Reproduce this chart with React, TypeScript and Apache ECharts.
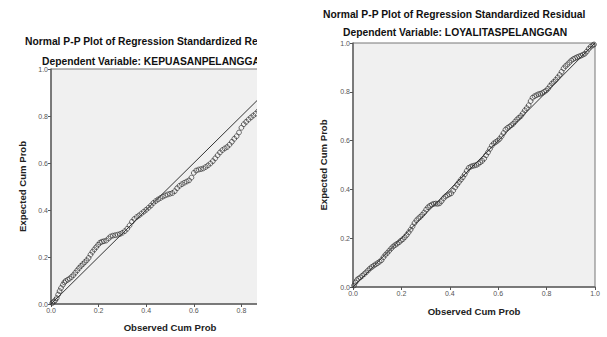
import React, { useEffect, useRef } from "react";
import * as echarts from "echarts";

const titleText = "Normal P-P Plot of Regression Standardized Residual";
const leftSubtitle = "Dependent Variable: KEPUASANPELANGGAN";
const rightSubtitle = "Dependent Variable: LOYALITASPELANGGAN";
const xAxisName = "Observed Cum Prob";
const yAxisName = "Expected Cum Prob";
const refLine = [[0, 0], [1, 1]];

const leftPoints = [
  [0.005, 0.004], [0.012, 0.01], [0.018, 0.016], [0.024, 0.025], [0.03, 0.04], [0.036, 0.055], [0.042, 0.068],
  [0.05, 0.082], [0.056, 0.092], [0.062, 0.098], [0.07, 0.103], [0.078, 0.108], [0.086, 0.115], [0.094, 0.123],
  [0.102, 0.133], [0.11, 0.143], [0.118, 0.153], [0.126, 0.162], [0.134, 0.17], [0.142, 0.178], [0.15, 0.186],
  [0.158, 0.196], [0.166, 0.21], [0.174, 0.222], [0.182, 0.232], [0.19, 0.242], [0.198, 0.252], [0.206, 0.261],
  [0.214, 0.265], [0.222, 0.267], [0.232, 0.27], [0.242, 0.279], [0.25, 0.287], [0.26, 0.291], [0.27, 0.293],
  [0.28, 0.295], [0.29, 0.298], [0.3, 0.303], [0.31, 0.31], [0.32, 0.32], [0.33, 0.334], [0.34, 0.35],
  [0.35, 0.362], [0.36, 0.37], [0.37, 0.377], [0.38, 0.385], [0.39, 0.393], [0.4, 0.401], [0.41, 0.41],
  [0.42, 0.419], [0.43, 0.43], [0.44, 0.438], [0.45, 0.445], [0.46, 0.451], [0.47, 0.457], [0.48, 0.462],
  [0.49, 0.466], [0.5, 0.469], [0.51, 0.472], [0.52, 0.48], [0.53, 0.493], [0.54, 0.503], [0.55, 0.51],
  [0.56, 0.516], [0.57, 0.521], [0.58, 0.526], [0.59, 0.538], [0.6, 0.558], [0.61, 0.568], [0.62, 0.572],
  [0.63, 0.574], [0.64, 0.577], [0.65, 0.583], [0.66, 0.59], [0.67, 0.598], [0.68, 0.608], [0.69, 0.62],
  [0.7, 0.633], [0.71, 0.645], [0.72, 0.655], [0.73, 0.662], [0.74, 0.668], [0.75, 0.678], [0.76, 0.69],
  [0.77, 0.703], [0.78, 0.714], [0.79, 0.73], [0.8, 0.75], [0.81, 0.765], [0.82, 0.775], [0.83, 0.785],
  [0.84, 0.794], [0.85, 0.802], [0.86, 0.81], [0.87, 0.82], [0.88, 0.832], [0.89, 0.845], [0.9, 0.858],
  [0.92, 0.88], [0.94, 0.905], [0.96, 0.93], [0.98, 0.96], [0.995, 0.99],
];

const rightPoints = [
  [0.004, 0.006], [0.01, 0.018], [0.016, 0.028], [0.022, 0.034], [0.03, 0.039], [0.038, 0.046], [0.046, 0.053],
  [0.054, 0.06], [0.062, 0.068], [0.07, 0.076], [0.078, 0.082], [0.086, 0.088], [0.094, 0.093], [0.102, 0.098],
  [0.11, 0.104], [0.118, 0.11], [0.126, 0.122], [0.134, 0.132], [0.142, 0.14], [0.15, 0.149], [0.158, 0.158],
  [0.166, 0.166], [0.174, 0.172], [0.182, 0.177], [0.19, 0.183], [0.198, 0.19], [0.206, 0.196], [0.214, 0.204],
  [0.222, 0.213], [0.23, 0.224], [0.238, 0.235], [0.246, 0.248], [0.254, 0.262], [0.262, 0.273], [0.27, 0.281],
  [0.278, 0.288], [0.286, 0.296], [0.294, 0.305], [0.302, 0.317], [0.31, 0.327], [0.318, 0.333], [0.326, 0.338],
  [0.334, 0.341], [0.342, 0.342], [0.35, 0.341], [0.358, 0.343], [0.366, 0.352], [0.374, 0.363], [0.382, 0.371],
  [0.39, 0.376], [0.398, 0.38], [0.406, 0.384], [0.414, 0.395], [0.422, 0.408], [0.43, 0.419], [0.438, 0.43],
  [0.446, 0.44], [0.454, 0.45], [0.462, 0.462], [0.47, 0.476], [0.478, 0.488], [0.486, 0.493], [0.494, 0.496],
  [0.502, 0.498], [0.51, 0.5], [0.518, 0.505], [0.526, 0.511], [0.534, 0.517], [0.542, 0.526], [0.55, 0.54],
  [0.558, 0.552], [0.566, 0.566], [0.574, 0.58], [0.582, 0.589], [0.59, 0.594], [0.598, 0.6], [0.606, 0.607],
  [0.614, 0.618], [0.622, 0.631], [0.63, 0.645], [0.638, 0.652], [0.646, 0.657], [0.654, 0.663], [0.662, 0.669],
  [0.67, 0.678], [0.678, 0.687], [0.686, 0.694], [0.694, 0.701], [0.702, 0.712], [0.71, 0.724], [0.718, 0.733],
  [0.726, 0.745], [0.734, 0.762], [0.742, 0.776], [0.75, 0.782], [0.758, 0.786], [0.766, 0.79], [0.774, 0.792],
  [0.782, 0.795], [0.79, 0.8], [0.798, 0.805], [0.806, 0.813], [0.814, 0.824], [0.822, 0.834], [0.83, 0.841],
  [0.838, 0.849], [0.846, 0.859], [0.854, 0.869], [0.862, 0.882], [0.87, 0.896], [0.878, 0.905], [0.886, 0.912],
  [0.894, 0.92], [0.902, 0.928], [0.91, 0.934], [0.918, 0.938], [0.926, 0.942], [0.934, 0.945], [0.942, 0.948],
  [0.95, 0.952], [0.958, 0.956], [0.966, 0.965], [0.974, 0.976], [0.982, 0.985], [0.99, 0.99], [0.996, 0.994],
];

const FONT = "'Liberation Sans', Arial, sans-serif";

type Cfg = {
  points: number[][];
  subtitle: string;
  grid: { left: number; top: number; width: number; height: number };
  titleX: number;
  titleY: number;
  subX: number;
  subY: number;
  xGap: number;
  yGap: number;
};

function makeOption(c: Cfg): any {
  const axisCommon = {
    min: 0,
    max: 1,
    interval: 0.2,
    nameLocation: "middle",
    nameTextStyle: { fontFamily: FONT, fontSize: 9.6, fontWeight: "bold", color: "#222" },
    axisLine: { show: true, lineStyle: { color: "#666", width: 1.5 } },
    axisTick: { show: true, inside: false, length: 3, lineStyle: { color: "#555" } },
    axisLabel: {
      fontFamily: FONT,
      fontSize: 7,
      color: "#555",
      margin: 3,
      formatter: (v: number) => v.toFixed(1),
    },
    splitLine: { show: false },
  };
  return {
    animation: false,
    grid: {
      ...c.grid,
      show: true,
      backgroundColor: "#f0f0f0",
      borderColor: "#777",
      borderWidth: 1,
    },
    graphic: [
      {
        type: "text",
        left: c.titleX,
        top: c.titleY,
        style: { text: titleText, font: `bold 10.3px ${FONT}`, fill: "#111" },
      },
      {
        type: "text",
        left: c.subX,
        top: c.subY,
        style: { text: c.subtitle, font: `bold 10.3px ${FONT}`, fill: "#111" },
      },
    ],
    xAxis: { ...axisCommon, type: "value", name: xAxisName, nameGap: c.xGap },
    yAxis: { ...axisCommon, type: "value", name: yAxisName, nameGap: c.yGap },
    series: [
      {
        type: "line",
        data: refLine,
        symbol: "none",
        lineStyle: { color: "#333", width: 1 },
        silent: true,
        z: 3,
      },
      {
        type: "scatter",
        data: c.points,
        symbol: "circle",
        symbolSize: 4.8,
        itemStyle: { color: "rgba(0,0,0,0)", borderColor: "#333", borderWidth: 0.9 },
        z: 2,
      },
    ],
  };
}

function Chart({ cfg, width, height }: { cfg: Cfg; width: number; height: number }) {
  const ref = useRef<HTMLDivElement>(null);
  useEffect(() => {
    if (!ref.current) return;
    const chart = echarts.init(ref.current, undefined, { renderer: "svg" });
    chart.setOption(makeOption(cfg));
    return () => chart.dispose();
  }, []);
  return <div ref={ref} style={{ width, height }} />;
}

const leftCfg: Cfg = {
  points: leftPoints,
  subtitle: leftSubtitle,
  grid: { left: 51, top: 69, width: 238, height: 239 },
  titleX: 25,
  titleY: 36,
  subX: 42,
  subY: 56,
  xGap: 18,
  yGap: 24,
};

const rightCfg: Cfg = {
  points: rightPoints,
  subtitle: rightSubtitle,
  grid: { left: 43, top: 43, width: 242, height: 244 },
  titleX: 13,
  titleY: 9,
  subX: 33,
  subY: 27,
  xGap: 19,
  yGap: 25,
};

export default function App() {
  return (
    <div style={{ position: "absolute", left: 0, top: 0, width: 607, height: 337, background: "#fff", overflow: "hidden" }}>
      <div style={{ position: "absolute", left: 0, top: 0, width: 257, height: 337, overflow: "hidden" }}>
        <Chart cfg={leftCfg} width={330} height={337} />
      </div>
      <div style={{ position: "absolute", left: 310, top: 0, width: 297, height: 337, overflow: "hidden" }}>
        <Chart cfg={rightCfg} width={297} height={337} />
      </div>
    </div>
  );
}
